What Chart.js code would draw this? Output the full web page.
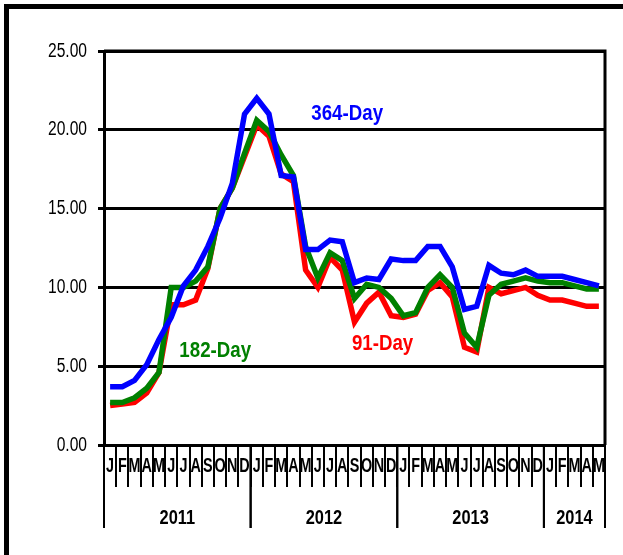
<!DOCTYPE html>
<html>
<head>
<meta charset="utf-8">
<script src="https://cdn.jsdelivr.net/npm/chart.js@4.4.1/dist/chart.umd.min.js"></script>
<style>
  html, body { margin: 0; padding: 0; background: #fff; }
  #wrap { position: relative; width: 623px; height: 555px; overflow: hidden; }
  #frame { position: absolute; left: 4px; top: 4px; width: 660px; height: 620px; border: 5px solid #000; box-sizing: border-box; }
  #chart { position: absolute; left: 0; top: 0; }
</style>
</head>
<body>
<div id="wrap">
  <div id="frame"></div>
  <canvas id="chart" width="623" height="555"></canvas>
</div>
<script>
// months Jan 2011 .. May 2014
const months = [
  "J","F","M","A","M","J","J","A","S","O","N","D",
  "J","F","M","A","M","J","J","A","S","O","N","D",
  "J","F","M","A","M","J","J","A","S","O","N","D",
  "J","F","M","A","M"
]
const years = ["2011", "2012", "2013", "2014"]
const monthsPerYear = [12, 12, 12, 5]

const day364 = [
  3.7, 3.7, 4.1, 5.1, 6.7, 8.1, 10.1, 11.1, 12.6, 14.4, 16.6, 21.0,
  22.0, 21.0, 17.1, 17.0, 12.4, 12.4, 13.0, 12.9, 10.3, 10.6, 10.5, 11.8,
  11.7, 11.7, 12.6, 12.6, 11.3, 8.6, 8.8, 11.4, 10.9, 10.8, 11.1, 10.7,
  10.7, 10.7, 10.5, 10.3, 10.1
]
const day182 = [
  2.7, 2.7, 3.0, 3.6, 4.6, 10.0, 10.0, 10.4, 11.3, 15.0, 16.3, 18.5,
  20.6, 19.9, 18.4, 17.1, 12.6, 10.6, 12.2, 11.7, 9.3, 10.2, 10.0, 9.3,
  8.2, 8.4, 10.0, 10.8, 10.0, 7.1, 6.2, 9.5, 10.2, 10.4, 10.6, 10.4,
  10.3, 10.3, 10.1, 9.9, 9.9
]
const day91 = [
  2.5, 2.6, 2.7, 3.3, 4.6, 8.9, 8.9, 9.2, 11.2, 15.0, 16.3, 18.3,
  20.3, 19.6, 17.2, 16.7, 11.1, 10.0, 11.9, 11.1, 7.8, 9.0, 9.7, 8.2,
  8.1, 8.3, 9.8, 10.3, 9.4, 6.2, 5.9, 10.0, 9.6, 9.8, 10.0, 9.5,
  9.2, 9.2, 9.0, 8.8, 8.8
]

const sans = "'Liberation Sans', Arial, sans-serif"

// series names written inside the plot, anchored at (month index, value)
const seriesLabels = [
  { text: "364-Day", color: "#0000ff", at: [19.4, 21.0] },
  { text: "182-Day", color: "#008000", at: [8.6, 6.0] },
  { text: "91-Day", color: "#ff0000", at: [22.3, 6.4] }
]

// the original uses a narrow face; squeeze Liberation Sans to mimic it
function narrowText(ctx, text, x, y, sx) {
  ctx.save()
  ctx.translate(x, y)
  ctx.scale(sx, 1)
  ctx.fillText(text, 0, 0)
  ctx.restore()
}

const framePlugin = {
  id: "frame",
  afterDraw(chart) {
    const { ctx, chartArea: a, scales } = chart
    const x = scales.x, y = scales.y
    ctx.save()
    ctx.strokeStyle = "#000"
    ctx.lineWidth = 3
    ctx.beginPath()
    ctx.moveTo(a.left, a.top)
    ctx.lineTo(a.right, a.top)
    ctx.lineTo(a.right, a.bottom)
    ctx.stroke()

    ctx.fillStyle = "#000"
    ctx.textBaseline = "middle"

    // y tick labels
    ctx.textAlign = "right"
    ctx.font = "20px " + sans
    y.ticks.forEach(t => {
      narrowText(ctx, t.value.toFixed(2), a.left - 17, y.getPixelForValue(t.value), 0.78)
    })

    // month letters
    ctx.textAlign = "center"
    ctx.font = "bold 20px " + sans
    months.forEach((m, i) => {
      narrowText(ctx, m, x.getPixelForValue(i), 466, 0.72)
    })

    // year separators and labels
    const half = (x.getPixelForValue(1) - x.getPixelForValue(0)) / 2
    let start = 0
    ctx.lineWidth = 2
    ctx.font = "bold 20px " + sans
    years.forEach((yr, i) => {
      const end = start + monthsPerYear[i]
      const x0 = x.getPixelForValue(start) - half
      const x1 = x.getPixelForValue(end - 1) + half
      ctx.beginPath()
      ctx.moveTo(x0, a.bottom)
      ctx.lineTo(x0, 528)
      ctx.moveTo(x1, a.bottom)
      ctx.lineTo(x1, 528)
      ctx.stroke()
      narrowText(ctx, yr, (x0 + x1) / 2, 518, 0.82)
      start = end
    })

    ctx.font = "bold 22px " + sans
    seriesLabels.forEach(l => {
      ctx.fillStyle = l.color
      narrowText(ctx, l.text, x.getPixelForValue(l.at[0]), y.getPixelForValue(l.at[1]), 0.85)
    })
    ctx.restore()
  }
}

new Chart(document.getElementById("chart"), {
  type: "line",
  data: {
    labels: months,
    datasets: [
      { label: "364-Day", data: day364, borderColor: "#0000ff" },
      { label: "182-Day", data: day182, borderColor: "#008000" },
      { label: "91-Day", data: day91, borderColor: "#ff0000" }
    ]
  },
  options: {
    responsive: false,
    animation: false,
    layout: { padding: { top: 51, right: 18, left: 0, bottom: 0 } },
    elements: {
      line: { borderWidth: 5.5, tension: 0, fill: false },
      point: { radius: 0 }
    },
    plugins: {
      legend: { display: false },
      tooltip: { enabled: false }
    },
    scales: {
      x: {
        offset: true,
        afterFit(s) { s.height = 110 },
        border: { display: true, color: "#000", width: 3 },
        grid: {
          offset: true,
          drawOnChartArea: false,
          drawTicks: true,
          tickLength: 42,
          color: "#000",
          lineWidth: 2
        },
        ticks: { display: false, autoSkip: false }
      },
      y: {
        min: 0,
        max: 25,
        afterFit(s) { s.width = 104 },
        border: { display: true, color: "#000", width: 3 },
        grid: { color: "#000", lineWidth: 3, tickLength: 6 },
        ticks: { display: false, stepSize: 5 }
      }
    }
  },
  plugins: [framePlugin]
})
</script>
</body>
</html>
